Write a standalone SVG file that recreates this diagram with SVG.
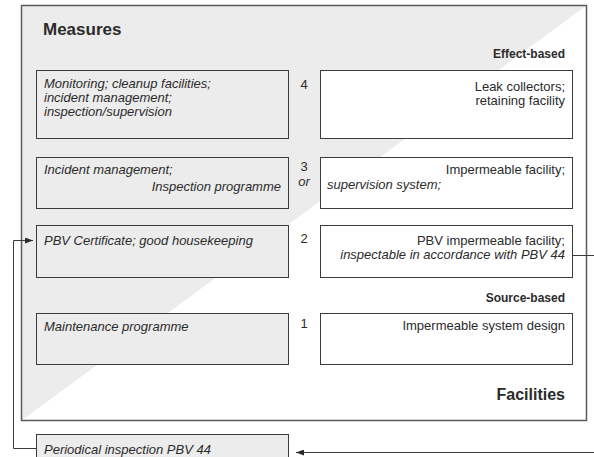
<svg xmlns="http://www.w3.org/2000/svg" width="594" height="457" viewBox="0 0 594 457">
  <defs>
    <style>
      text { font-family: "Liberation Sans", Arial, sans-serif; fill: #2b2b2b; }
      .t { font-size: 13px; }
      .i { font-style: italic; }
      .r { text-anchor: end; }
      .m { text-anchor: middle; }
      .h1 { font-size: 17px; font-weight: bold; }
      .h2 { font-size: 12px; font-weight: bold; }
      .h3 { font-size: 16px; font-weight: bold; }
      .grey { fill: #ececec; stroke: #3c3c3c; stroke-width: 1; }
      .white { fill: #ffffff; stroke: #3c3c3c; stroke-width: 1; }
      .link { fill: none; stroke: #3c3c3c; stroke-width: 1; }
    </style>
    <marker id="arrow" viewBox="0 0 8 6" refX="8" refY="3" markerWidth="8" markerHeight="6" markerUnits="userSpaceOnUse" orient="auto">
      <path d="M0,0 L8,3 L0,6 Z" fill="#2b2b2b"/>
    </marker>
  </defs>

  <rect width="594" height="457" fill="#ffffff"/>

  <!-- frame with the diagonal split between measures and facilities -->
  <g id="frame">
    <rect x="21.5" y="5.5" width="565" height="415" fill="#ffffff"/>
    <polygon points="21.5,5.5 586.5,5.5 21.5,420.5" fill="#ececec"/>
    <rect x="21.5" y="5.5" width="565" height="415" fill="none" stroke="#5a5a5a" stroke-width="1.5"/>
    <text class="h1" x="43" y="35">Measures</text>
    <text class="h2 r" x="565" y="58">Effect-based</text>
    <text class="h2 r" x="565" y="302">Source-based</text>
    <text class="h3 r" x="565" y="400">Facilities</text>
  </g>

  <!-- level numbers -->
  <g id="levels">
    <text class="t m" x="304" y="89">4</text>
    <text class="t m" x="304" y="171">3</text>
    <text class="t m i" x="304" y="186">or</text>
    <text class="t m" x="304" y="243">2</text>
    <text class="t m" x="304" y="328">1</text>
  </g>

  <!-- measures column -->
  <g id="m4">
    <rect class="grey" x="36.5" y="70.5" width="252" height="68"/>
    <text class="t i" x="44" y="88">Monitoring; cleanup facilities;</text>
    <text class="t i" x="44" y="102">incident management;</text>
    <text class="t i" x="44" y="116">inspection/supervision</text>
  </g>
  <g id="m3">
    <rect class="grey" x="36.5" y="157.5" width="252" height="51"/>
    <text class="t i" x="44" y="174">Incident management;</text>
    <text class="t i r" x="281" y="191">Inspection programme</text>
  </g>
  <g id="m2">
    <rect class="grey" x="36.5" y="225.5" width="252" height="52"/>
    <text class="t i" x="44" y="245">PBV Certificate; good housekeeping</text>
  </g>
  <g id="m1">
    <rect class="grey" x="36.5" y="313.5" width="252" height="51"/>
    <text class="t i" x="44" y="331">Maintenance programme</text>
  </g>
  <g id="inspection">
    <rect class="grey" x="36.5" y="434.5" width="252" height="30"/>
    <text class="t i" x="44" y="454">Periodical inspection PBV 44</text>
  </g>

  <!-- facilities column -->
  <g id="f4">
    <rect class="white" x="320.5" y="70.5" width="252" height="68"/>
    <text class="t r" x="565" y="91">Leak collectors;</text>
    <text class="t r" x="565" y="105">retaining facility</text>
  </g>
  <g id="f3">
    <rect class="white" x="320.5" y="157.5" width="252" height="51"/>
    <text class="t r" x="565" y="174">Impermeable facility;</text>
    <text class="t i" x="327" y="189">supervision system;</text>
  </g>
  <g id="f2">
    <rect class="white" x="320.5" y="225.5" width="252" height="52"/>
    <text class="t r" x="565" y="245">PBV impermeable facility;</text>
    <text class="t i r" x="565" y="259">inspectable in accordance with PBV 44</text>
  </g>
  <g id="f1">
    <rect class="white" x="320.5" y="313.5" width="252" height="51"/>
    <text class="t r" x="565" y="330">Impermeable system design</text>
  </g>

  <!-- connectors -->
  <g id="connectors">
    <path class="link" d="M36.5,448.5 H13.5 V240.5 H33" marker-end="url(#arrow)"/>
    <path class="link" d="M572.5,255.5 H600 V452.5 H296" marker-end="url(#arrow)"/>
  </g>
</svg>
